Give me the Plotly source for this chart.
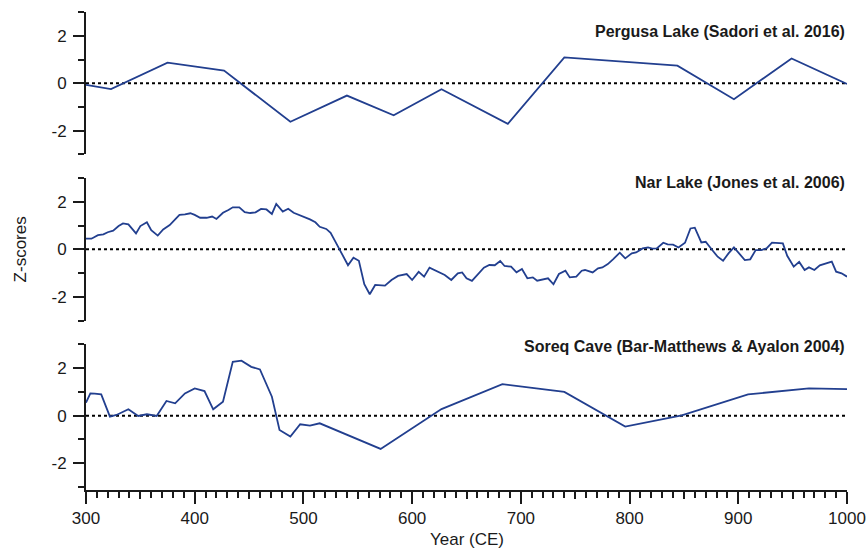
import plotly.graph_objects as go

# ---------------- data ----------------
pergusa_year = [300, 323, 375, 427, 488, 540, 583, 627, 688, 740, 844, 896, 949, 1000]
pergusa_z = [-0.07, -0.25, 0.87, 0.53, -1.62, -0.52, -1.35, -0.25, -1.71, 1.09, 0.74, -0.67, 1.04, -0.03]

nar_year = [300, 305, 311, 316, 320, 325, 330, 334, 339, 342, 346, 350, 356, 360, 366, 371, 377, 382,
            386, 391, 396, 400, 405, 411, 416, 420, 426, 431, 435, 441, 446, 451, 456, 461, 466, 471,
            475, 481, 486, 491, 496, 500, 506, 511, 515, 521, 525, 529, 535, 541, 546, 551, 556, 561,
            566, 575, 581, 587, 595, 600, 606, 611, 616, 622, 630, 636, 642, 646, 650, 655, 661, 666,
            671, 676, 681, 685, 691, 696, 701, 706, 711, 715, 725, 730, 735, 741, 745, 751, 756, 759,
            766, 771, 775, 780, 785, 791, 796, 802, 806, 812, 817, 821, 825, 831, 835, 840, 845, 851,
            856, 860, 866, 870, 876, 881, 886, 891, 896, 901, 906, 911, 916, 921, 926, 931, 936, 941,
            945, 951, 956, 961, 965, 970, 975, 981, 986, 990, 995, 1000]
nar_z = [0.45, 0.45, 0.60, 0.63, 0.72, 0.79, 0.98, 1.09, 1.05, 0.88, 0.67, 0.98, 1.14, 0.81, 0.58, 0.84, 1.02, 1.26,
         1.45, 1.47, 1.52, 1.45, 1.33, 1.33, 1.38, 1.28, 1.54, 1.66, 1.77, 1.77, 1.57, 1.53, 1.56, 1.70, 1.68, 1.49,
         1.91, 1.59, 1.71, 1.54, 1.45, 1.40, 1.26, 1.14, 0.95, 0.86, 0.70, 0.36, -0.17, -0.67, -0.35, -0.48, -1.47, -1.89,
         -1.50, -1.53, -1.29, -1.12, -1.04, -1.29, -0.95, -1.15, -0.77, -0.91, -1.08, -1.29, -1.01, -0.97, -1.22, -1.33, -1.01, -0.77,
         -0.66, -0.67, -0.49, -0.70, -0.73, -0.97, -0.83, -1.22, -1.18, -1.32, -1.22, -1.47, -1.04, -0.90, -1.18, -1.15, -0.90, -0.87,
         -0.97, -0.80, -0.76, -0.62, -0.41, -0.14, -0.38, -0.17, -0.13, 0.04, 0.08, 0.03, 0.04, 0.28, 0.21, 0.20, 0.08, 0.28,
         0.88, 0.91, 0.29, 0.32, -0.03, -0.31, -0.48, -0.17, 0.08, -0.20, -0.45, -0.42, -0.03, -0.03, 0.04, 0.28, 0.25, 0.25,
         -0.27, -0.73, -0.53, -0.87, -0.76, -0.87, -0.67, -0.60, -0.52, -0.94, -1.01, -1.15]

soreq_year = [300, 304, 308, 314, 322, 328, 339, 348, 356, 365, 374, 382, 391, 400, 409, 417, 426, 435,
              443, 452, 460, 471, 478, 488, 497, 506, 515, 571, 627, 683, 740, 796, 848, 909, 965, 1000]
soreq_z = [0.55, 0.94, 0.93, 0.90, -0.04, 0.03, 0.27, -0.01, 0.06, -0.01, 0.62, 0.52, 0.94, 1.15, 1.04, 0.27, 0.59, 2.27,
           2.32, 2.06, 1.95, 0.80, -0.60, -0.88, -0.36, -0.42, -0.32, -1.40, 0.28, 1.33, 1.00, -0.46, 0.01, 0.90, 1.15, 1.12]

panel_titles = ["Pergusa Lake (Sadori et al. 2016)", "Nar Lake (Jones et al. 2006)",
                "Soreq Cave (Bar-Matthews & Ayalon 2004)"]
y_tickvals = [-2, 0, 2]
y_ticktext = ["-2", "0", "2"]
x_tickvals = [300, 400, 500, 600, 700, 800, 900, 1000]
x_midticks = [350, 450, 550, 650, 750, 850, 950]

# ---------------- style ----------------
FONT = "Liberation Sans, Arial, sans-serif"
LINE_COLOR = "#223f8f"
INK = "#1a1a1a"

fig = go.Figure()
series = [(pergusa_year, pergusa_z), (nar_year, nar_z), (soreq_year, soreq_z)]
for i, (xs, ys) in enumerate(series):
    suf = "" if i == 0 else str(i + 1)
    fig.add_trace(go.Scatter(x=xs, y=ys, mode="lines", xaxis="x" + suf, yaxis="y" + suf,
                             line=dict(color=LINE_COLOR, width=1.8), showlegend=False,
                             hoverinfo="skip"))

domains = [[0.7019, 1.0], [0.3544, 0.6525], [0.0, 0.3044]]
yranges = [[-3, 3], [-3, 3], [-3.13, 3]]

layout = dict(
    width=868, height=551, autosize=False,
    margin=dict(l=86, r=21, t=12, b=61),
    paper_bgcolor="white", plot_bgcolor="white",
    font=dict(family=FONT, size=16, color=INK),
    showlegend=False,
)

for i in range(3):
    suf = "" if i == 0 else str(i + 1)
    layout["yaxis" + suf] = dict(
        domain=domains[i], range=yranges[i], anchor="x" + suf,
        tickvals=y_tickvals, ticktext=y_ticktext, ticks="outside", ticklen=11, tickwidth=2,
        tickcolor=INK, ticklabelstandoff=3,
        showline=True, linewidth=2, linecolor=INK, showgrid=False, zeroline=False,
        tickfont=dict(size=17, color=INK), fixedrange=True, automargin=False,
        minor=dict(tickvals=[-3, -1, 1, 3], ticks="outside", ticklen=6, tickwidth=2,
                   tickcolor=INK, showgrid=False),
    )
    if i < 2:
        layout["xaxis" + suf] = dict(range=[300, 1000], anchor="y" + suf, visible=False,
                                     showgrid=False, zeroline=False, automargin=False)

layout["xaxis3"] = dict(
    range=[300, 1000], anchor="y3", tickvals=x_tickvals, ticks="outside", ticklen=12,
    tickwidth=2, tickcolor=INK, showline=True, linewidth=2, linecolor=INK, showgrid=False,
    zeroline=False, tickfont=dict(size=17, color=INK), automargin=False,
    minor=dict(dtick=10, tick0=300, ticks="outside", ticklen=6, tickwidth=2, tickcolor=INK,
               showgrid=False),
)
layout["xaxis4"] = dict(
    range=[300, 1000], anchor="y3", overlaying="x3", side="bottom", tickvals=x_midticks,
    ticks="outside", ticklen=8, tickwidth=2, tickcolor=INK, showline=False,
    showticklabels=False, showgrid=False, zeroline=False, automargin=False,
)

fig.update_layout(**layout)
# invisible helper trace so xaxis4 (the 50-year ticks) is drawn
fig.add_trace(go.Scatter(x=[300], y=[0], xaxis="x4", yaxis="y3", mode="markers",
                         marker=dict(opacity=0), showlegend=False, hoverinfo="skip"))

# zero reference lines
for i in range(3):
    suf = "" if i == 0 else str(i + 1)
    fig.add_shape(type="line", xref="x" + suf, yref="y" + suf, x0=300, x1=1000, y0=0, y1=0,
                  line=dict(color="black", width=2, dash="dot"), layer="below")

# panel titles
title_y = [2.16, 2.82, 2.93]
for i in range(3):
    suf = "" if i == 0 else str(i + 1)
    fig.add_annotation(text="<b>" + panel_titles[i].replace("&", "&amp;") + "</b>",
                       xref="paper", yref="y" + suf, x=1.0, y=title_y[i],
                       xanchor="right", yanchor="middle", showarrow=False,
                       font=dict(family=FONT, size=16, color=INK))

# axis titles
fig.add_annotation(text="Z-scores", xref="paper", yref="y2", x=-0.0867, y=0,
                   xanchor="center", yanchor="middle", textangle=-90, showarrow=False,
                   font=dict(family=FONT, size=17, color=INK))
fig.add_annotation(text="Year (CE)", xref="paper", yref="paper", x=0.5, y=-0.1046,
                   xanchor="center", yanchor="middle", showarrow=False,
                   font=dict(family=FONT, size=17, color=INK))

fig.write_html(
    "out.html",
    config={"displayModeBar": False, "responsive": False},
    post_script=("document.body.style.margin='0';document.body.style.overflow='hidden';"
                 "var gd=document.getElementById('{plot_id}');"
                 "Plotly.relayout(gd,{width:868,height:551});"),
)
